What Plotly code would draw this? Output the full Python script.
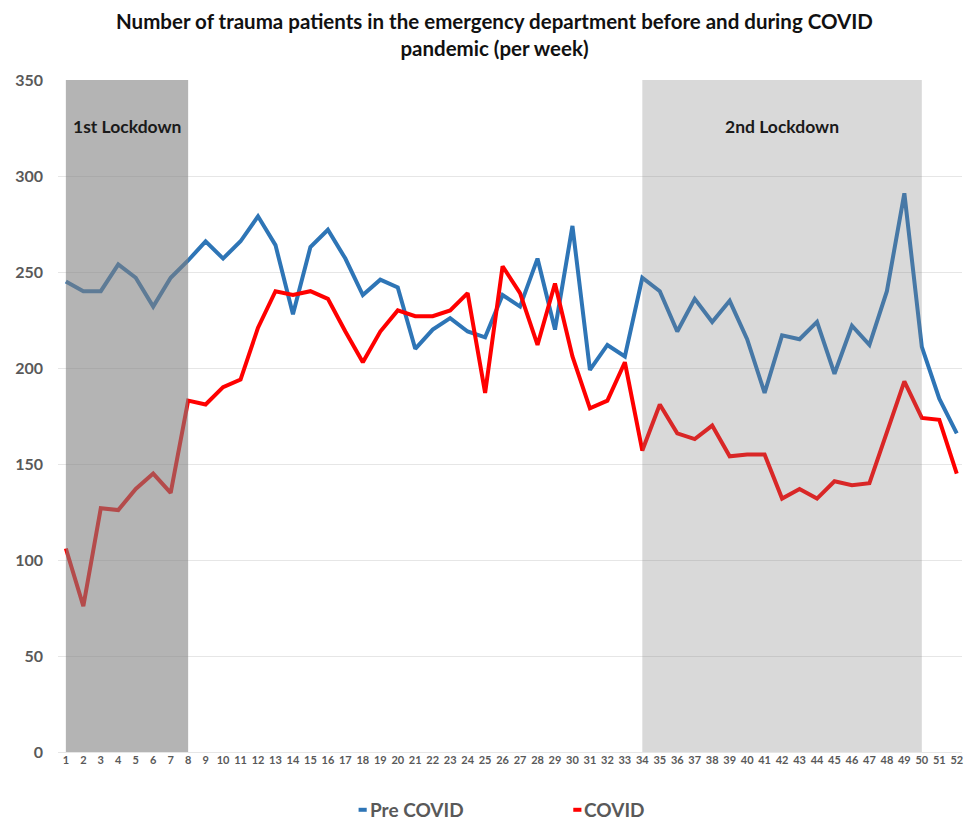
import plotly.graph_objects as go

# Weekly trauma patient counts in the emergency department
weeks = list(range(1, 53))
pre_covid = [245, 240, 240, 254, 247, 232, 247, 256, 266, 257,
             266, 279, 264, 228, 263, 272, 257, 238, 246, 242,
             210, 220, 226, 219, 216, 238, 232, 257, 220, 274,
             199, 212, 206, 247, 240, 219, 236, 224, 235, 215,
             187, 217, 215, 224, 197, 222, 212, 240, 291, 211,
             184, 166]
covid = [106, 76, 127, 126, 137, 145, 135, 183, 181, 190,
         194, 221, 240, 238, 240, 236, 219, 203, 219, 230,
         227, 227, 230, 239, 187, 253, 239, 212, 244, 206,
         179, 183, 203, 157, 181, 166, 163, 170, 154, 155,
         155, 132, 137, 132, 141, 139, 140, 166, 193, 174,
         173, 145]

# Lockdown periods (first week, last week)
lockdowns = [("1st Lockdown", 1, 8, "rgba(128,128,128,0.59)"),
             ("2nd Lockdown", 34, 50, "rgba(128,128,128,0.3)")]

series = [("Pre COVID", pre_covid, "#2E75B6"),
          ("COVID", covid, "#FF0000")]

FONT = "Lato, 'Open Sans', sans-serif"
GREY = "#595959"

fig = go.Figure()
for name, vals, color in series:
    fig.add_trace(go.Scatter(x=weeks, y=vals, mode="lines", name=name,
                             line=dict(color=color, width=4),
                             showlegend=False))

shapes = []
annotations = []
for label, start, end, fill in lockdowns:
    shapes.append(dict(type="rect", xref="x", yref="y", x0=start, x1=end,
                       y0=0, y1=350, fillcolor=fill, line=dict(width=0),
                       layer="above"))
    annotations.append(dict(x=(start + end) / 2, y=326, xref="x", yref="y",
                            text="<b>%s</b>" % label, showarrow=False,
                            font=dict(family=FONT, size=17.5, color="#1a1a1a")))

# Legend drawn below the axis: short colored dash followed by the name
legend_pos = [(0.3415, "Pre COVID"), (0.5790, "COVID")]
for (xp, _), (name, _, color) in zip(legend_pos, series):
    shapes.append(dict(type="line", xref="paper", yref="paper",
                       x0=xp - 0.009, x1=xp, y0=-0.086, y1=-0.086,
                       line=dict(color=color, width=4)))
    annotations.append(dict(x=xp + 0.001, y=-0.086, xref="paper", yref="paper",
                            text="<b>%s</b>" % name, showarrow=False,
                            xanchor="left", yanchor="middle",
                            font=dict(family=FONT, size=19, color=GREY)))

# Two-line title above the plot area
annotations.append(dict(x=0.4834, y=1.067, xref="paper", yref="paper",
                        xanchor="center", yanchor="middle", showarrow=False,
                        text="<b>Number of trauma patients in the emergency department before and during COVID<br>pandemic (per week)</b>",
                        font=dict(family=FONT, size=20.5, color="#111111")))

fig.update_layout(
    width=965, height=820,
    margin=dict(l=58, r=3, t=80, b=68),
    paper_bgcolor="white", plot_bgcolor="white",
    xaxis=dict(range=[0.55, 52.3], tickmode="array", tickvals=weeks,
               ticktext=[str(w) for w in weeks], showgrid=False,
               zeroline=False, showline=False, ticks="",
               tickfont=dict(family=FONT, size=11, color=GREY,
                             weight="bold")),
    yaxis=dict(range=[0, 350], tickvals=[0, 50, 100, 150, 200, 250, 300, 350],
               showgrid=True, gridcolor="#e6e6e6", gridwidth=1,
               zeroline=True, zerolinecolor="#e6e6e6", zerolinewidth=1,
               ticks="", ticklabelstandoff=14,
               tickfont=dict(family=FONT, size=16, color=GREY,
                             weight="bold")),
    shapes=shapes, annotations=annotations,
)

fig.write_html("out.html")
